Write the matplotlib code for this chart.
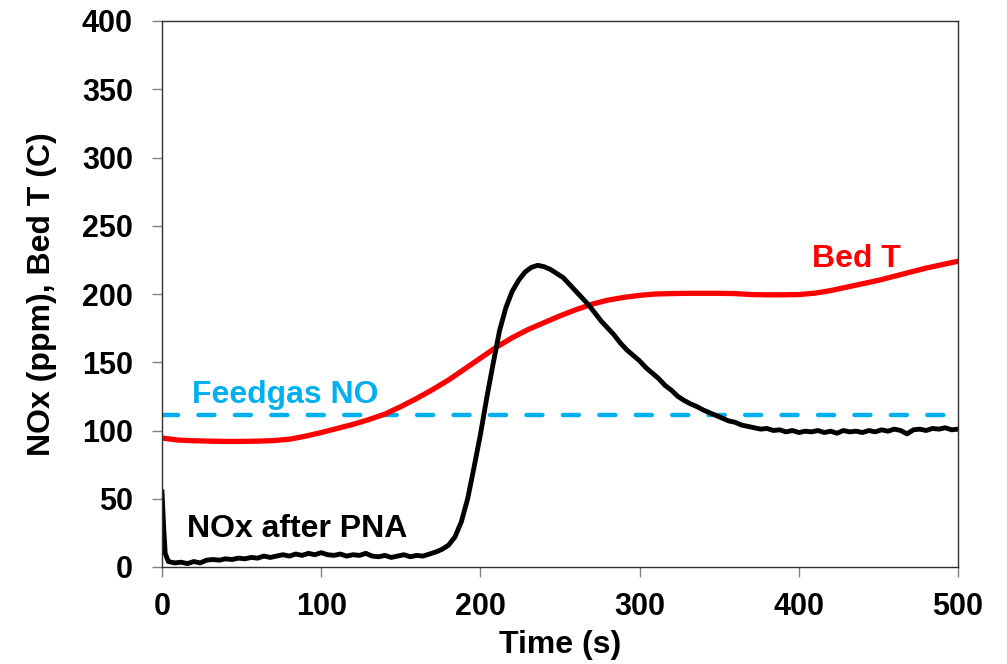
"""
NOx slip after the PNA and bed temperature over a 500 s test.
"""
import matplotlib
matplotlib.use('Agg')
import matplotlib.pyplot as plt

# bed temperature (C)
bed_t_time = [0, 10, 20, 30, 40, 50, 60, 70, 80, 90, 100, 110, 120, 130, 140,
              150, 160, 170, 180, 190, 200, 210, 220, 230, 240, 250, 260, 270,
              280, 290, 300, 310, 320, 330, 340, 350, 360, 370, 380, 390, 400,
              410, 420, 430, 440, 450, 460, 470, 480, 490, 500]
bed_t = [94.5, 93, 92.5, 92.2, 92, 92, 92.2, 92.6, 93.6, 95.8, 98.5, 101.5,
         104.5, 108, 112, 117.5, 123.5, 130, 137, 145, 153, 161, 168, 174,
         179, 184, 188.5, 192.5, 195.5, 197.5, 199, 200, 200.3, 200.5, 200.5,
         200.5, 200.3, 199.6, 199.4, 199.4, 199.6, 200.6, 202.5, 205, 207.5,
         210, 213, 216, 219, 221.5, 224]

# NOx after PNA (ppm)
nox_time = [0, 1, 2, 4, 8, 12, 16, 20, 24, 28, 32, 36, 40, 44, 48, 52, 56, 60,
            64, 68, 72, 76, 80, 84, 88, 92, 96, 100, 104, 108, 112, 116, 120,
            124, 128, 132, 136, 140, 144, 148, 152, 156, 160, 164, 168, 172,
            176, 180, 184, 188, 192, 196, 200, 204, 208, 212, 216, 220, 224,
            228, 232, 236, 240, 244, 248, 252, 256, 260, 264, 268, 272, 276,
            280, 284, 288, 292, 296, 300, 304, 308, 312, 316, 320, 324, 328,
            332, 336, 340, 344, 348, 352, 356, 360, 364, 368, 372, 376, 380,
            384, 388, 392, 396, 400, 404, 408, 412, 416, 420, 424, 428, 432,
            436, 440, 444, 448, 452, 456, 460, 464, 468, 472, 476, 480, 484,
            488, 492, 496, 500]
nox = [55, 30, 10, 4, 3, 3.5, 2.5, 4, 3, 5, 5.5, 5, 6, 5.5, 6.5, 6, 7, 6.5,
       8, 7, 8, 9, 8, 9.5, 8.5, 10, 9, 10.5, 9, 8.5, 9.5, 8, 9,
       8.5, 10, 8, 7.5, 8.5, 7, 8, 9, 7.5, 8.5, 8, 9.5, 11,
       13, 16, 22, 33, 50, 73, 97, 124, 149, 173, 190, 202, 210,
       216, 219.5, 221, 220, 218, 215, 212, 207, 202, 197, 192, 186, 180,
       175, 170, 164, 159, 155, 151, 146, 142, 138, 133, 129.5, 125, 122,
       119.5, 117.5, 115, 113, 111, 109, 107, 106, 104, 103, 102, 101, 101.5,
       100, 100.5, 99, 100, 98.5, 99.5, 99, 100, 98.5, 99.5, 98, 100, 99,
       99.5, 98.5, 100, 99, 100.5, 99.5, 101, 100, 97.5, 100.5, 101, 100, 101.5,
       101, 102, 100.5, 101]

# feedgas NO level (ppm)
feed_time = [0, 500]
feed_no = [111, 111]

plt.rcParams['font.family'] = ['Liberation Sans', 'DejaVu Sans']
plt.rcParams['font.weight'] = 'bold'

fig = plt.figure(figsize=(10.07, 6.64), dpi=100)
ax = fig.add_axes([162/1007, 97/664, 796/1007, 546/664])

ax.plot(feed_time, feed_no, color='#00B0F0', lw=3.2, dashes=(3.6, 4.6),
        dash_capstyle='round')
ax.plot(bed_t_time, bed_t, color='#FF0000', lw=3.8)
ax.plot(nox_time, nox, color='black', lw=3.5)

ax.text(19, 120, 'Feedgas NO', color='#00B0F0', fontsize=23,
        fontweight='bold', ha='left', va='baseline')
ax.text(408, 220, 'Bed T', color='#FF0000', fontsize=23,
        fontweight='bold', ha='left', va='baseline')
ax.text(16, 22, 'NOx after PNA', color='black', fontsize=23,
        fontweight='bold', ha='left', va='baseline')

ax.set_xlim(0, 500)
ax.set_ylim(0, 400)
ax.set_xticks([0, 100, 200, 300, 400, 500])
ax.set_yticks(range(0, 401, 50))
ax.set_xlabel('Time (s)', fontsize=23, fontweight='bold', labelpad=6)
ax.set_ylabel('NOx (ppm), Bed T (C)', fontsize=23, fontweight='bold',
              labelpad=18)

for sp in ax.spines.values():
    sp.set_color('#303030')
    sp.set_linewidth(1.0)
ax.tick_params(direction='out', length=7, width=1, color='#808080',
               labelsize=22, labelcolor='black')
ax.tick_params(axis='y', pad=14)
ax.tick_params(axis='x', pad=11)

fig.savefig('out.png', dpi=100)
